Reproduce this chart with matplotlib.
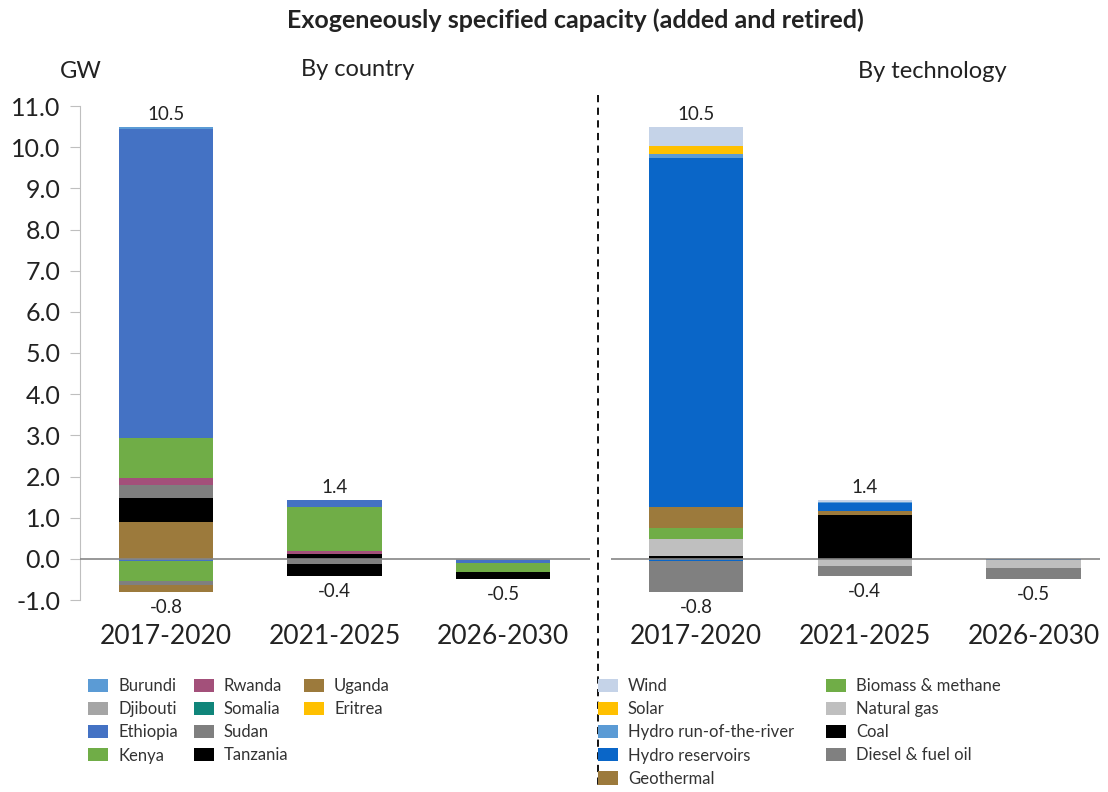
import numpy as np
import matplotlib
matplotlib.use("Agg")
import matplotlib.pyplot as plt
from matplotlib.patches import Patch
from matplotlib.lines import Line2D

plt.rcParams['font.family'] = ['Lato', 'DejaVu Sans']

periods = ["2017-2020", "2021-2025", "2026-2030"]

# ---- By country (GW) ----
countries = ["Burundi", "Djibouti", "Ethiopia", "Kenya", "Rwanda",
             "Somalia", "Sudan", "Tanzania", "Uganda", "Eritrea"]
country_colors = ["#5b9bd5", "#a5a5a5", "#4472c4", "#70ad47", "#a3507a",
                  "#10857a", "#7f7f7f", "#000000", "#9c7a3c", "#ffc000"]
country_added = {
    "Burundi":  [0.05, 0.00, 0.00],
    "Djibouti": [0.00, 0.00, 0.00],
    "Ethiopia": [7.50, 0.16, 0.00],
    "Kenya":    [0.97, 1.08, 0.00],
    "Rwanda":   [0.17, 0.07, 0.00],
    "Somalia":  [0.00, 0.00, 0.00],
    "Sudan":    [0.31, 0.00, 0.00],
    "Tanzania": [0.58, 0.12, 0.00],
    "Uganda":   [0.90, 0.00, 0.00],
    "Eritrea":  [0.00, 0.00, 0.00],
}
country_retired = {
    "Burundi":  [0.00, 0.00, 0.00],
    "Djibouti": [0.00, 0.00, 0.03],
    "Ethiopia": [0.06, 0.00, 0.08],
    "Kenya":    [0.47, 0.00, 0.20],
    "Rwanda":   [0.00, 0.00, 0.00],
    "Somalia":  [0.00, 0.00, 0.00],
    "Sudan":    [0.10, 0.12, 0.00],
    "Tanzania": [0.00, 0.29, 0.18],
    "Uganda":   [0.17, 0.00, 0.00],
    "Eritrea":  [0.00, 0.00, 0.00],
}

# ---- By technology (GW) ----
techs = ["Wind", "Solar", "Hydro run-of-the-river", "Hydro reservoirs",
         "Geothermal", "Biomass & methane", "Natural gas", "Coal",
         "Diesel & fuel oil"]
tech_colors = ["#c5d3e8", "#ffc000", "#5b9bd5", "#0a66c8", "#9c7a3c",
               "#70ad47", "#bfbfbf", "#000000", "#808080"]
tech_added = {
    "Wind":                   [0.45, 0.04, 0.00],
    "Solar":                  [0.20, 0.00, 0.00],
    "Hydro run-of-the-river": [0.10, 0.04, 0.00],
    "Hydro reservoirs":       [8.48, 0.18, 0.00],
    "Geothermal":             [0.50, 0.10, 0.00],
    "Biomass & methane":      [0.28, 0.00, 0.00],
    "Natural gas":            [0.40, 0.00, 0.00],
    "Coal":                   [0.07, 1.07, 0.00],
    "Diesel & fuel oil":      [0.00, 0.00, 0.00],
}
tech_retired = {
    "Wind":                   [0.00, 0.00, 0.00],
    "Solar":                  [0.00, 0.00, 0.00],
    "Hydro run-of-the-river": [0.00, 0.00, 0.00],
    "Hydro reservoirs":       [0.06, 0.00, 0.03],
    "Geothermal":             [0.00, 0.00, 0.00],
    "Biomass & methane":      [0.00, 0.00, 0.00],
    "Natural gas":            [0.00, 0.17, 0.20],
    "Coal":                   [0.00, 0.00, 0.00],
    "Diesel & fuel oil":      [0.74, 0.24, 0.26],
}

W, H = 1108, 792
fig = plt.figure(figsize=(W / 100, H / 100), dpi=100)


def px_axes(x0, x1, y_top, y_bot):
    return fig.add_axes([x0 / W, 1 - y_bot / H, (x1 - x0) / W, (y_bot - y_top) / H])


ax1 = px_axes(80, 590, 106, 600)
ax2 = px_axes(611, 1100, 106, 600)
ax1.set_xlim(-0.51, 2.516)
ax2.set_xlim(-0.504, 2.394)

x = np.arange(len(periods))
bar_w = 0.558


def stacked(ax, names, colors, added, retired):
    pos = np.zeros(len(periods))
    # additions stack upward, last series nearest the axis
    for name, col in reversed(list(zip(names, colors))):
        v = np.array(added[name])
        ax.bar(x, v, bar_w, bottom=pos, color=col, linewidth=0, zorder=2)
        pos += v
    neg = np.zeros(len(periods))
    # retirements stack downward, first series nearest the axis
    for name, col in zip(names, colors):
        v = -np.array(retired[name])
        ax.bar(x, v, bar_w, bottom=neg, color=col, linewidth=0, zorder=2)
        neg += v
    for i in range(len(periods)):
        if pos[i] > 0:
            ax.annotate(f"{pos[i]:.1f}", (x[i], pos[i]), xytext=(0, 3),
                        textcoords="offset points", ha="center", va="bottom",
                        fontsize=13.5, color="#222222")
        ax.annotate(f"{neg[i]:.1f}", (x[i], neg[i]), xytext=(0, -5),
                    textcoords="offset points", ha="center", va="top",
                    fontsize=13.5, color="#222222")
    ax.axhline(0, color="#868686", lw=1.2, zorder=3)
    ax.set_ylim(-1, 11)
    ax.set_xticks(x)
    ax.set_xticklabels(periods, fontsize=19, color="#222222")
    ax.tick_params(axis="x", length=0, pad=17)
    for s in ["top", "right", "bottom"]:
        ax.spines[s].set_visible(False)


stacked(ax1, countries, country_colors, country_added, country_retired)
stacked(ax2, techs, tech_colors, tech_added, tech_retired)

ax1.set_yticks(np.arange(-1, 11.01, 1.0))
ax1.set_yticklabels([f"{v:.1f}" for v in np.arange(-1, 11.01, 1.0)],
                    fontsize=18, color="#222222")
ax1.spines["left"].set_color("#bfbfbf")
ax1.tick_params(axis="y", length=7, color="#bfbfbf", pad=7)
ax2.spines["left"].set_visible(False)
ax2.set_yticks([])

# headings
fig.text(575 / W, 1 - 20 / H, "Exogeneously specified capacity (added and retired)",
         ha="center", va="center", fontsize=18, fontweight="bold", color="#222222")
fig.text(81 / W, 1 - 72 / H, "GW", ha="center", va="center", fontsize=17, color="#222222")
fig.text(358 / W, 1 - 70 / H, "By country", ha="center", va="center", fontsize=17, color="#222222")
fig.text(932 / W, 1 - 72 / H, "By technology", ha="center", va="center", fontsize=17, color="#222222")

# divider between the two panels
fig.add_artist(Line2D([598 / W, 598 / W], [1 - 95 / H, 1 - 790 / H],
                      transform=fig.transFigure, color="black", lw=1.3,
                      linestyle=(0, (4, 3))))

# legends
blank = Patch(facecolor="none", edgecolor="none")
h1 = [Patch(facecolor=c, edgecolor="none") for c in country_colors]
l1 = list(countries)
h1 = h1 + [blank, blank]
l1 = l1 + ["", ""]
leg1 = fig.legend(h1, l1, ncol=3, loc="upper left",
                  bbox_to_anchor=(88 / W, 1 - 678 / H), frameon=False,
                  fontsize=12, handlelength=1.2, handleheight=0.85,
                  handletextpad=0.6, columnspacing=0.95, labelspacing=0.43,
                  borderaxespad=0, borderpad=0)
for t in leg1.get_texts():
    t.set_color("#333333")

h2 = [Patch(facecolor=c, edgecolor="none") for c in tech_colors]
leg2 = fig.legend(h2, techs, ncol=2, loc="upper left",
                  bbox_to_anchor=(598 / W, 1 - 678 / H), frameon=False,
                  fontsize=12, handlelength=1.2, handleheight=0.85,
                  handletextpad=0.6, columnspacing=1.9, labelspacing=0.43,
                  borderaxespad=0, borderpad=0)
for t in leg2.get_texts():
    t.set_color("#333333")

fig.savefig("out.png", dpi=100)
